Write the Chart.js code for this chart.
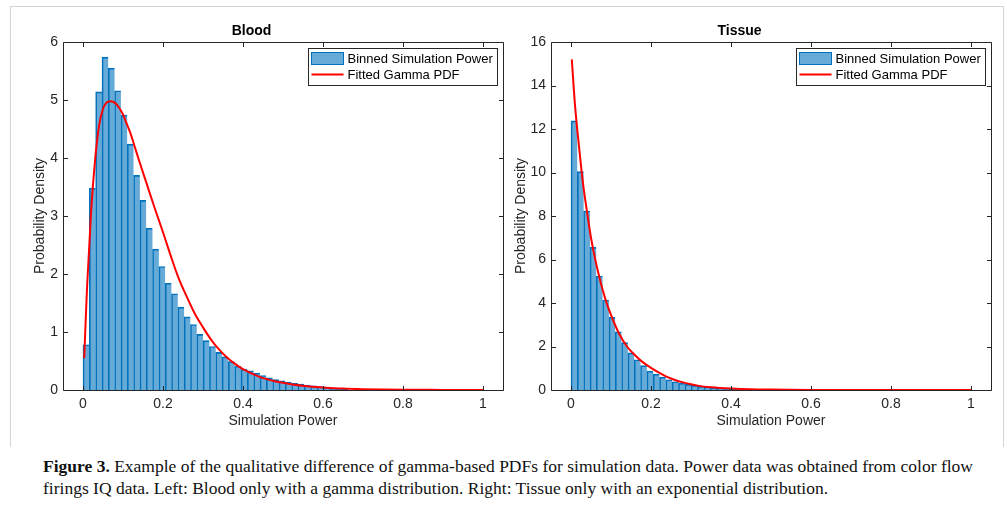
<!DOCTYPE html>
<html>
<head>
<meta charset="utf-8">
<script src="https://cdn.jsdelivr.net/npm/chart.js@4.4.1/dist/chart.umd.min.js"></script>
<style>
    body { margin: 0; background: #fff; width: 1007px; height: 508px; position: relative; overflow: hidden; }
    .frame { position: absolute; left: 10px; top: 6px; width: 992px; height: 440px; border: 1px solid #d4d4d4; border-bottom: none; }
    .panel { position: absolute; top: 0; width: 510px; height: 440px; }
    .caption { position: absolute; left: 43px; font-family: "Liberation Serif", "DejaVu Serif", serif; font-size: 17.5px; color: #111; white-space: nowrap; line-height: 22px; }
</style>
</head>
<body>
<div class="frame"></div>
<div class="panel" style="left:0"><canvas id="bloodChart" width="510" height="440"></canvas></div>
<div class="panel" style="left:488px"><canvas id="tissueChart" width="510" height="440"></canvas></div>
<div class="caption" style="top:455px"><b>Figure 3.</b> Example of the qualitative difference of gamma-based PDFs for simulation data. Power data was obtained from color flow</div>
<div class="caption" style="top:477px">firings IQ data. Left: Blood only with a gamma distribution. Right: Tissue only with an exponential distribution.</div>
<script>
// histogram bin width (simulation power units)
const binWidth = 0.0158;

// Blood: binned probability density, one value per bin starting at 0
const bloodBins = [0.78, 3.48, 5.14, 5.74, 5.55, 5.16, 4.74, 4.24, 3.70, 3.27,
    2.79, 2.43, 2.13, 1.84, 1.66, 1.43, 1.26, 1.13, 0.96, 0.85,
    0.75, 0.65, 0.57, 0.49, 0.41, 0.36, 0.33, 0.29, 0.25, 0.21,
    0.18, 0.16, 0.135, 0.115, 0.10, 0.085, 0.07, 0.06, 0.045, 0.03,
    0.02, 0.01];

// Blood: fitted gamma PDF
const bloodFitX = [0.003, 0.01, 0.02, 0.03, 0.04, 0.05, 0.06, 0.07, 0.08, 0.09,
    0.10, 0.11, 0.12, 0.13, 0.14, 0.16, 0.18, 0.20, 0.22, 0.24,
    0.26, 0.28, 0.30, 0.32, 0.34, 0.36, 0.38, 0.40, 0.44, 0.48,
    0.52, 0.56, 0.60, 0.65, 0.70, 0.80, 0.90, 1.00];
const bloodFitY = [0.55, 1.75, 3.05, 3.95, 4.55, 4.85, 4.96, 4.98, 4.95, 4.87,
    4.75, 4.58, 4.40, 4.18, 3.96, 3.54, 3.12, 2.72, 2.30, 1.91,
    1.60, 1.31, 1.08, 0.87, 0.70, 0.56, 0.45, 0.36, 0.23, 0.15,
    0.10, 0.065, 0.045, 0.025, 0.015, 0.005, 0.002, 0.0];

// Tissue: binned probability density
const tissueBins = [12.37, 10.04, 8.23, 6.56, 5.24, 4.14, 3.34, 2.68, 2.18, 1.71,
    1.39, 1.12, 0.87, 0.73, 0.59, 0.47, 0.38, 0.31, 0.26, 0.21,
    0.17, 0.14, 0.11, 0.09, 0.07, 0.06, 0.045, 0.035, 0.025, 0.02,
    0.015];

// Tissue: fitted PDF
const tissueFitX = [0.002, 0.01, 0.02, 0.03, 0.04, 0.05, 0.06, 0.07, 0.08, 0.09,
    0.10, 0.11, 0.12, 0.14, 0.16, 0.18, 0.20, 0.22, 0.24, 0.26,
    0.28, 0.30, 0.32, 0.35, 0.40, 0.45, 0.50, 0.60, 0.70, 0.80, 1.00];
const tissueFitY = [15.2, 13.1, 11.2, 9.5, 8.2, 7.0, 6.05, 5.25, 4.55, 3.95,
    3.45, 3.0, 2.6, 2.0, 1.6, 1.27, 1.02, 0.8, 0.6, 0.46,
    0.35, 0.26, 0.19, 0.13, 0.07, 0.035, 0.02, 0.005, 0.002, 0.0, 0.0];

// tick labels
const xTicks = [0, 0.2, 0.4, 0.6, 0.8, 1];
const bloodYTicks = [0, 1, 2, 3, 4, 5, 6];
const tissueYTicks = [0, 2, 4, 6, 8, 10, 12, 14, 16];

const colors = {
    axis: '#262626',
    barFill: 'rgba(0, 114, 189, 0.6)',
    barEdge: '#0072BD',
    fit: '#FF0000'
};
const fontFamily = '"Liberation Sans", Arial, Helvetica, sans-serif';
Chart.defaults.font.family = fontFamily;
Chart.defaults.color = colors.axis;

// MATLAB-style box with inward ticks on all four sides
const axesBox = {
    id: 'axesBox',
    afterDatasetsDraw(chart) {
        const { ctx, chartArea: a, scales: { x, y } } = chart;
        const L = Math.round(a.left) + 0.5, R = Math.round(a.right) + 0.5;
        const T = Math.round(a.top) + 0.5, B = Math.round(a.bottom) + 0.5;
        const len = 4.5;
        ctx.save();
        ctx.strokeStyle = colors.axis;
        ctx.lineWidth = 1;
        ctx.beginPath();
        ctx.rect(L, T, R - L, B - T);
        x.ticks.forEach(t => {
            const px = Math.round(x.getPixelForValue(t.value)) + 0.5;
            ctx.moveTo(px, B); ctx.lineTo(px, B - len);
            ctx.moveTo(px, T); ctx.lineTo(px, T + len);
        });
        y.ticks.forEach(t => {
            const py = Math.round(y.getPixelForValue(t.value)) + 0.5;
            ctx.moveTo(L, py); ctx.lineTo(L + len, py);
            ctx.moveTo(R, py); ctx.lineTo(R - len, py);
        });
        ctx.stroke();
        ctx.restore();
    }
};

// legend box in the top right corner of the axes
const insetLegend = {
    id: 'insetLegend',
    afterDraw(chart) {
        const { ctx, chartArea: a } = chart;
        const items = chart.data.datasets;
        ctx.save();
        ctx.font = '13px ' + fontFamily;
        const textW = Math.max(...items.map(d => ctx.measureText(d.label).width));
        const w = Math.round(39 + textW + 5), h = 37;
        const left = Math.round(a.right - 6 - w) + 0.5, top = Math.round(a.top + 6) + 0.5;
        ctx.fillStyle = '#fff';
        ctx.fillRect(left, top, w, h);
        ctx.strokeStyle = colors.axis;
        ctx.lineWidth = 1;
        ctx.strokeRect(left, top, w, h);
        items.forEach((d, i) => {
            const cy = top + 10 + i * 16;
            if (d.type === 'line') {
                ctx.strokeStyle = d.borderColor;
                ctx.lineWidth = 2;
                ctx.beginPath();
                ctx.moveTo(left + 3, cy);
                ctx.lineTo(left + 35, cy);
                ctx.stroke();
            } else {
                ctx.fillStyle = d.backgroundColor;
                ctx.fillRect(left + 3, cy - 6, 32, 12);
                ctx.strokeStyle = d.borderColor;
                ctx.lineWidth = 1;
                ctx.strokeRect(left + 3, cy - 6, 32, 12);
            }
            ctx.fillStyle = '#000';
            ctx.textBaseline = 'middle';
            ctx.fillText(d.label, left + 39, cy + 0.5);
        });
        ctx.restore();
    }
};

function createHistChart(canvasId, title, bins, fitX, fitY, yMax, yTicks, yTitleOffset) {
    const ctx = document.getElementById(canvasId);
    return new Chart(ctx, {
        type: 'bar',
        data: {
            datasets: [{
                label: 'Binned Simulation Power',
                data: bins.map((v, i) => ({ x: (i + 0.5) * binWidth, y: v })),
                backgroundColor: colors.barFill,
                borderColor: colors.barEdge,
                borderWidth: { left: 1, top: 1, right: 0, bottom: 0 },
                borderSkipped: false,
                barPercentage: 1,
                categoryPercentage: 1,
                order: 1
            }, {
                type: 'line',
                label: 'Fitted Gamma PDF',
                data: fitX.map((v, i) => ({ x: v, y: fitY[i] })),
                borderColor: colors.fit,
                borderWidth: 2,
                pointRadius: 0,
                cubicInterpolationMode: 'monotone',
                order: 0
            }]
        },
        options: {
            responsive: false,
            animation: false,
            layout: { padding: { left: 0, right: 7, top: 0, bottom: 0 } },
            plugins: {
                legend: { display: false },
                tooltip: { enabled: false },
                title: {
                    display: true,
                    text: title,
                    color: '#000',
                    font: { size: 14, weight: 'bold' },
                    padding: { top: 23, bottom: 2.2 }
                }
            },
            scales: {
                x: {
                    type: 'linear',
                    offset: false,
                    min: -0.05,
                    max: 1.05,
                    afterBuildTicks: s => { s.ticks = xTicks.map(v => ({ value: v })); },
                    afterFit: s => { s.height = 50; },
                    ticks: { padding: 6, font: { size: 14 }, color: colors.axis, callback: v => String(v) },
                    grid: { display: false, drawTicks: false },
                    border: { display: false },
                    title: { display: true, text: 'Simulation Power', font: { size: 14 }, color: colors.axis, padding: { top: 0, bottom: 10.6 } }
                },
                y: {
                    min: 0,
                    max: yMax,
                    afterBuildTicks: s => { s.ticks = yTicks.map(v => ({ value: v })); },
                    afterFit: s => { s.width = 63; },
                    ticks: { padding: 5, font: { size: 14 }, color: colors.axis, callback: v => String(v) },
                    grid: { display: false, drawTicks: false },
                    border: { display: false },
                    title: { display: true, text: 'Probability Density', font: { size: 14 }, color: colors.axis, padding: { top: yTitleOffset, bottom: 0 } }
                }
            }
        },
        plugins: [axesBox, insetLegend]
    });
}

createHistChart('bloodChart', 'Blood', bloodBins, bloodFitX, bloodFitY, 6, bloodYTicks, 31.6);
createHistChart('tissueChart', 'Tissue', tissueBins, tissueFitX, tissueFitY, 16, tissueYTicks, 24.6);
</script>
</body>
</html>
